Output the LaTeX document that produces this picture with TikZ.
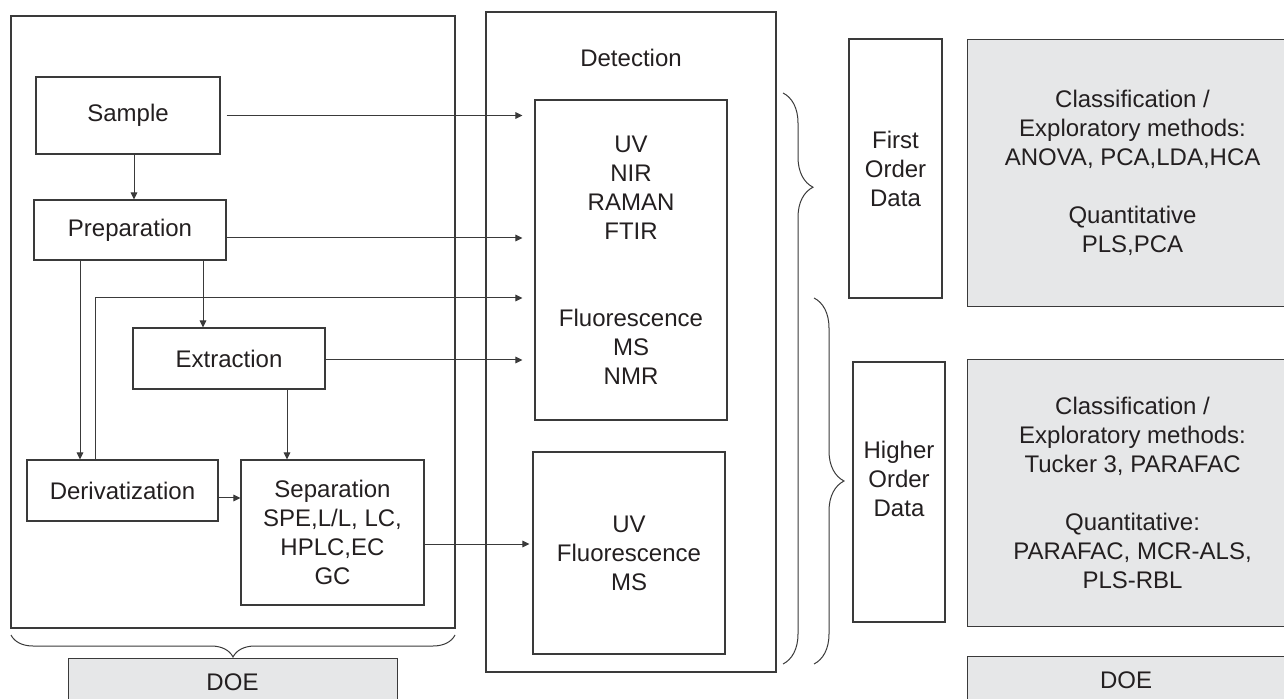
\documentclass[tikz,border=0pt]{standalone}
\usepackage{fontspec}
\setmainfont{Liberation Sans}
\usetikzlibrary{arrows.meta,decorations.pathreplacing}
\definecolor{ln}{HTML}{3A3A3A}
\definecolor{tx}{HTML}{231F20}
\definecolor{gfill}{HTML}{E6E7E8}
\tikzset{
  box/.style={draw=ln, line width=0.55pt, inner sep=0pt, align=center, text=tx,
              font=\fontsize{12}{14.5}\selectfont},
  gbox/.style={box, fill=gfill},
  txt/.style={inner sep=0pt, align=center, text=tx, font=\fontsize{12}{14.5}\selectfont},
  arr/.style={draw=ln, line width=0.5pt, -{Triangle[length=3.5pt,width=3.3pt]}},
  con/.style={draw=ln, line width=0.5pt},
  brc/.style={draw=ln, line width=0.5pt, decorate},
}
\begin{document}
\begin{tikzpicture}[x=0.5pt,y=-0.5pt]
\useasboundingbox (0,0) rectangle (1284,699);
% left process box
\node[box, minimum width=444*0.5pt, minimum height=612*0.5pt] (proc) at (233,322) {};
\node[box, minimum width=184*0.5pt, minimum height=77*0.5pt] (sample) at (128,115.5) {Sample};
\node[box, minimum width=192*0.5pt, minimum height=60*0.5pt] (prep) at (130,230) {Preparation};
\node[box, minimum width=192*0.5pt, minimum height=61*0.5pt] (extr) at (229,358.5) {Extraction};
\node[box, minimum width=191*0.5pt, minimum height=61*0.5pt] (deriv) at (122.5,490.5) {Derivatization};
\node[box, minimum width=183*0.5pt, minimum height=145*0.5pt] (sep) at (332.5,532.5) {Separation\\SPE,L/L, LC,\\HPLC,EC\\GC};
\node[gbox, minimum width=329*0.5pt, minimum height=50*0.5pt, anchor=north west] (doeL) at (68,658) {};
\node[txt] (doeLt) at (232.5,682) {DOE};
% detection
\node[box, minimum width=290*0.5pt, minimum height=660*0.5pt] (det) at (631,342) {};
\node[txt] (detl) at (631,58) {Detection};
\node[box, minimum width=192*0.5pt, minimum height=320*0.5pt] (det1) at (631,260) {UV\\NIR\\RAMAN\\FTIR\\[29pt]Fluorescence\\MS\\NMR};
\node[box, minimum width=192*0.5pt, minimum height=202*0.5pt] (det2) at (629,553) {UV\\Fluorescence\\MS};
% right side
\node[box, minimum width=93*0.5pt, minimum height=259*0.5pt] (first) at (895.5,168.5) {First\\Order\\Data};
\node[box, minimum width=92*0.5pt, minimum height=260*0.5pt] (higher) at (899,492) {};
\node[txt] (highert) at (899,479) {Higher\\Order\\Data};
\node[gbox, minimum width=330*0.5pt, minimum height=267*0.5pt, anchor=north west] (m1) at (967,39) {Classification /\\Exploratory methods:\\ANOVA, PCA,LDA,HCA\\[14.5pt]Quantitative\\PLS,PCA};
\node[gbox, minimum width=330*0.5pt, minimum height=267*0.5pt, anchor=north west] (m2) at (967,359) {Classification /\\Exploratory methods:\\Tucker 3, PARAFAC\\[14.5pt]Quantitative:\\PARAFAC, MCR-ALS,\\PLS-RBL};
\node[gbox, minimum width=330*0.5pt, minimum height=50*0.5pt, anchor=north west] (doeR) at (967,656) {};
\node[txt] (doeRt) at (1126,680) {DOE};
% braces
\coordinate (b1s) at (783,93);
\coordinate (b1e) at (783,664);
\coordinate (b2s) at (814,298);
\coordinate (b2e) at (814,664);
\coordinate (b3s) at (455,635);
\coordinate (b3e) at (11,635);
\draw[brc, decoration={brace, amplitude=15pt, aspect=0.165}] (b1s) -- (b1e);
\draw[brc, decoration={brace, amplitude=15pt, aspect=0.5}] (b2s) -- (b2e);
\draw[brc, decoration={brace, amplitude=11pt, aspect=0.5}] (b3s) -- (b3e);
% internal connectors
\draw[arr] (sample.south -| 134,0) -- (prep.north -| 134,0);
\draw[arr] (prep.south -| 203,0) -- (extr.north -| 203,0);
\draw[arr] (prep.south -| 80,0) -- (deriv.north -| 80,0);
\draw[arr] (extr.south -| 287,0) -- (sep.north -| 287,0);
\draw[arr] (deriv.east |- 0,498) -- (sep.west |- 0,498);
% to detection
\draw[arr, shorten <=3pt, shorten >=6pt] (sample.east) -- (sample.east -| det1.west);
\draw[arr, shorten >=6pt] (prep.east |- 0,238) -- (det1.west |- 0,238);
\draw[arr, shorten >=6pt] (deriv.north -| 95,0) -- (95,298) -- (det1.west |- 0,298);
\draw[arr, shorten >=6pt] (extr.east |- 0,360) -- (det1.west |- 0,360);
\draw[arr, shorten >=1.5pt] (sep.east |- 0,544) -- (det2.west |- 0,544);
\end{tikzpicture}
\end{document}
